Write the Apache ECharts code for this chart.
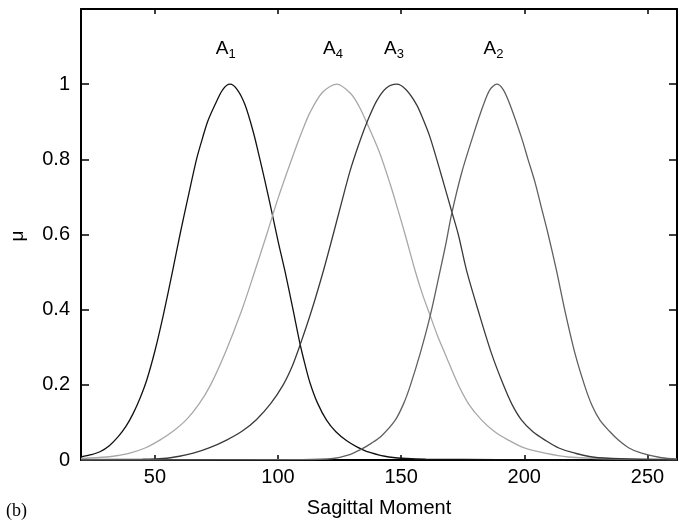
<!DOCTYPE html>
<html>
<head>
<meta charset="utf-8">
<script src="https://cdn.jsdelivr.net/npm/echarts@6/dist/echarts.min.js"></script>
<style>
html,body{margin:0;padding:0;background:#fff;}
#chart{width:683px;height:523px;}
</style>
</head>
<body>
<div id="chart"></div>
<script>
// ---- data ----
var xTicks = [50, 100, 150, 200, 250];
var yTicks = [0, 0.2, 0.4, 0.6, 0.8, 1];

var seriesNames = ['A1', 'A4', 'A3', 'A2'];

var a1 = [[20,0.008],[24,0.014],[27.7,0.022],[31.5,0.038],[35.1,0.062],[38.3,0.09],[41.2,0.124],[44,0.165],[46.8,0.215],[50,0.29],[53.4,0.385],[57.2,0.503],[60.2,0.6],[63.5,0.7],[66.9,0.8],[69.5,0.86],[71.4,0.9],[74.4,0.945],[77.5,0.985],[80.5,1.0],[83.5,0.985],[86.6,0.945],[89.9,0.874],[92.3,0.81],[94.7,0.742],[97.4,0.662],[100.1,0.58],[102.8,0.503],[106.2,0.397],[108.9,0.31],[111,0.253],[113,0.205],[116,0.152],[119.7,0.106],[123.5,0.075],[127.9,0.051],[132,0.035],[137.3,0.02],[145,0.008],[160,0.002],[262,0]];

var a4 = [[20,0.004],[30.4,0.008],[35,0.012],[39.8,0.018],[46,0.032],[52,0.053],[57.5,0.077],[62.9,0.108],[67.8,0.148],[72.3,0.196],[78.4,0.283],[85.2,0.397],[90.6,0.503],[95.4,0.6],[100.1,0.698],[106.2,0.812],[109.5,0.87],[113,0.925],[118,0.978],[123.8,1.0],[129.5,0.975],[133,0.94],[136.2,0.895],[141.1,0.82],[145.5,0.735],[148.5,0.67],[151.6,0.6],[155.7,0.503],[158.7,0.44],[161.8,0.384],[164.8,0.33],[167.8,0.283],[173.2,0.2],[177.5,0.148],[182.7,0.106],[188,0.075],[193.5,0.053],[200,0.032],[208.4,0.018],[217.8,0.008],[235,0.003],[262,0.001]];

var a3 = [[20,0.001],[45,0.002],[53.4,0.004],[60,0.01],[65.6,0.018],[72,0.032],[79.1,0.053],[85.5,0.077],[91.3,0.108],[97,0.15],[102.1,0.2],[105.8,0.25],[108.9,0.305],[113.6,0.397],[118.4,0.503],[122.4,0.6],[125.8,0.685],[129.2,0.768],[132.8,0.84],[136.2,0.9],[140,0.955],[144,0.99],[148.2,1.0],[152,0.985],[156.3,0.945],[159,0.905],[161.8,0.857],[166,0.765],[170.5,0.662],[173.2,0.6],[176.6,0.503],[181.3,0.397],[186.7,0.283],[191.5,0.2],[195,0.148],[198.9,0.106],[203.5,0.075],[208.4,0.053],[214,0.032],[220.6,0.018],[230,0.006],[262,0.001]];

var a2 = [[20,0],[110,0.001],[122.4,0.004],[128,0.012],[133.3,0.027],[138,0.045],[142,0.064],[147.6,0.106],[151,0.15],[153.6,0.196],[157.7,0.283],[161.8,0.384],[165.8,0.503],[168.3,0.58],[170.5,0.655],[174.6,0.765],[179.3,0.865],[183.4,0.945],[186,0.985],[188.8,1.0],[191.5,0.985],[194.2,0.945],[198.9,0.857],[201.5,0.8],[204.3,0.74],[207,0.67],[209.7,0.6],[213.1,0.503],[216.5,0.397],[220.6,0.283],[224.6,0.196],[227.5,0.145],[230.7,0.106],[234.5,0.077],[238.2,0.053],[242.5,0.032],[247.6,0.018],[255.7,0.006],[262,0.003]];

var labelNames = ['A1', 'A4', 'A3', 'A2'];
var labelX = [78.8, 122.3, 147.1, 187.5];
var labelY = [1.094, 1.094, 1.094, 1.094];

// ---- styles ----
var colors = ['#111111', '#a8a8a8', '#3a3a3a', '#606060'];
var FONT = '"Liberation Sans", Arial, Helvetica, sans-serif';

var chart = echarts.init(document.getElementById('chart'), null, {renderer: 'canvas'});

var dataSets = [a1, a4, a3, a2];
var lineSeries = dataSets.map(function (d, i) {
  return {
    name: seriesNames[i],
    type: 'line',
    data: d,
    showSymbol: false,
    smooth: 0.3,
    lineStyle: {color: colors[i], width: 1.3},
    z: 3
  };
});

var axisLineStyle = {color: '#000', width: 2};

var staticGraphics = [{
  id: 'mu',
  type: 'text',
  x: 18,
  y: 236,
  rotation: Math.PI / 2,
  style: {text: 'μ', fill: '#000', font: '19px ' + FONT, textAlign: 'center', textVerticalAlign: 'middle'}
}, {
  id: 'panel',
  type: 'text',
  x: 6,
  y: 511,
  style: {text: '(b)', fill: '#000', font: '18px "Liberation Serif", "Times New Roman", serif', textAlign: 'left', textVerticalAlign: 'middle'}
}];

var option = {
  animation: false,
  backgroundColor: '#ffffff',
  grid: {left: 81, right: 6, top: 9, bottom: 63, containLabel: false},
  xAxis: [{
    type: 'value',
    min: 20,
    max: 262,
    position: 'bottom',
    axisLine: {show: true, onZero: false, lineStyle: axisLineStyle},
    axisTick: {show: true, inside: true, length: 5, customValues: xTicks, lineStyle: {color: '#000', width: 1.5}},
    axisLabel: {show: true, customValues: xTicks, margin: 7, fontSize: 20, color: '#000', fontFamily: FONT},
    splitLine: {show: false},
    name: 'Sagittal Moment',
    nameLocation: 'middle',
    nameGap: 38,
    nameTextStyle: {fontSize: 20, color: '#000', fontFamily: FONT}
  }, {
    type: 'value',
    min: 20,
    max: 262,
    position: 'top',
    axisLine: {show: true, onZero: false, lineStyle: axisLineStyle},
    axisTick: {show: true, inside: true, length: 5, customValues: xTicks, lineStyle: {color: '#000', width: 1.5}},
    axisLabel: {show: false},
    splitLine: {show: false}
  }],
  yAxis: [{
    type: 'value',
    min: 0,
    max: 1.2,
    interval: 0.2,
    position: 'left',
    axisLine: {show: true, onZero: false, lineStyle: axisLineStyle},
    axisTick: {show: true, inside: true, length: 8, lineStyle: {color: '#000', width: 1.5}},
    axisLabel: {
      show: true, margin: 11, fontSize: 20, color: '#000', fontFamily: FONT,
      formatter: function (v) {
        for (var i = 0; i < yTicks.length; i++) {
          if (Math.abs(yTicks[i] - v) < 1e-6) return String(yTicks[i]);
        }
        return '';
      }
    },
    splitLine: {show: false}
  }, {
    type: 'value',
    min: 0,
    max: 1.2,
    interval: 0.2,
    position: 'right',
    axisLine: {show: true, onZero: false, lineStyle: axisLineStyle},
    axisTick: {show: true, inside: true, length: 8, lineStyle: {color: '#000', width: 1.5}},
    axisLabel: {show: false},
    splitLine: {show: false}
  }],
  graphic: staticGraphics,
  series: lineSeries
};

chart.setOption(option);

// curve labels placed through the axis scales
var labelGraphics = labelNames.map(function (n, i) {
  var p = chart.convertToPixel({xAxisIndex: 0, yAxisIndex: 0}, [labelX[i], labelY[i]]);
  return {
    id: 'lbl' + i,
    type: 'text',
    x: p[0],
    y: p[1],
    z: 10,
    style: {
      text: '{a|' + n.charAt(0) + '}{s|' + n.slice(1) + '}',
      textAlign: 'center',
      textVerticalAlign: 'middle',
      fill: '#000',
      rich: {
        a: {fontSize: 19, lineHeight: 19, fill: '#000', fontFamily: FONT},
        s: {fontSize: 13, lineHeight: 25, verticalAlign: 'bottom', fill: '#000', fontFamily: FONT}
      }
    }
  };
});
chart.setOption({graphic: staticGraphics.concat(labelGraphics)});
</script>
</body>
</html>
